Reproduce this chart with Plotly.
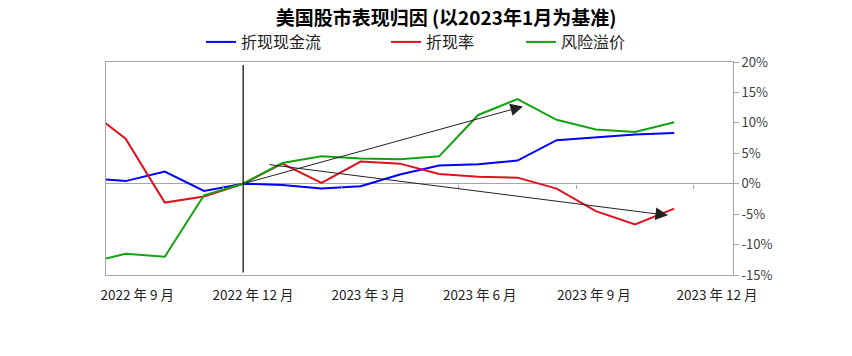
import plotly.graph_objects as go

# ---- data (monthly, Aug 2022 .. Nov 2023; base month Dec 2022 = 0) ----
months = ["2022年8月", "2022年9月", "2022年10月", "2022年11月", "2022年12月",
          "2023年1月", "2023年2月", "2023年3月", "2023年4月", "2023年5月",
          "2023年6月", "2023年7月", "2023年8月", "2023年9月", "2023年10月",
          "2023年11月", "2023年12月"]
dcf = [0.97, 0.43, 2.0, -1.2, 0.0, -0.2, -0.8, -0.4, 1.5, 3.0, 3.2, 3.8, 7.15, 7.6, 8.1, 8.35]
rate = [12.4, 7.4, -3.1, -2.1, 0.0, 3.3, 0.15, 3.65, 3.3, 1.6, 1.15, 1.0, -0.8, -4.5, -6.7, -4.1]
erp = [-13.1, -11.5, -12.0, -1.9, 0.0, 3.4, 4.5, 4.15, 4.0, 4.5, 11.3, 13.9, 10.5, 8.9, 8.5, 10.1]

series_names = ["折现现金流", "折现率", "风险溢价"]
tick_months = ["2022年9月", "2022年12月", "2023年3月", "2023年6月", "2023年9月", "2023年12月"]
tick_text_x = ["2022 年 9 月", "2022 年 12 月", "2023 年 3 月", "2023 年 6 月", "2023 年 9 月", "2023 年 12 月"]
y_ticks = [-15, -10, -5, 0, 5, 10, 15, 20]
y_tick_text = ["-15%", "-10%", "-5%", "0%", "5%", "10%", "15%", "20%"]
base_month = "2022年12月"
# trend arrows: (tail month index, tail value, head month index, head value)
arrow_up = (4.0, 0.0, 11.14, 12.7)
arrow_down = (4.63, 3.17, 14.84, -5.2)

title = "美国股市表现归因 (以2023年1月为基准)"

# layout-only: small horizontal nudges of the date labels (in months)
tick_label_shift = [0.30, 0.25, 0.19, 0.04, -0.05, 0.09]

FONT = "Noto Sans CJK SC"
x = list(range(len(dcf)))
idx = {m: i for i, m in enumerate(months)}

W, H = 852, 356

fig = go.Figure()
colors = ["#0000FF", "#E0101E", "#12A312"]
legends = ["legend", "legend2", "legend3"]
for name, vals, c, lg in zip(series_names, [dcf, rate, erp], colors, legends):
    fig.add_trace(go.Scatter(x=x, y=vals, mode="lines", name=name,
                             line=dict(color=c, width=2), legend=lg))

# dummy trace for zero-line tick axis
fig.add_trace(go.Scatter(x=[], y=[], xaxis="x2", showlegend=False, hoverinfo="skip"))

lo, hi = y_ticks[0], y_ticks[-1]
fig.add_shape(type="line", xref="x", yref="y", x0=idx[base_month], x1=idx[base_month],
              y0=-14.6, y1=19.5, line=dict(color="black", width=1.2))

for (ax_, ay_, hx, hy) in [arrow_up, arrow_down]:
    fig.add_annotation(x=hx, y=hy, ax=ax_, ay=ay_, xref="x", yref="y", axref="x", ayref="y",
                       showarrow=True, arrowhead=2, arrowsize=2.5, arrowwidth=1,
                       arrowcolor="#222222", standoff=0, text="")

gray = "#A6A6A6"
n = len(months) - 1
L, T = 106, 62
R = W - 733
B = H - 275
fig.update_layout(
    width=W, height=H,
    margin=dict(l=L, r=R, t=T, b=B, autoexpand=False),
    paper_bgcolor="white", plot_bgcolor="white",
    font=dict(family=FONT, size=13, color="#404040"),
    title=dict(text=title, x=446 / W, xanchor="center", y=1 - 18.5 / H,
               yanchor="middle", xref="container", yref="container",
               font=dict(family=FONT, size=19, color="#000000", weight="bold")),
    xaxis=dict(range=[0.5, n + 0.5], showgrid=False, zeroline=False,
               showline=True, linecolor=gray, linewidth=1, mirror=True,
               tickvals=[idx[m] + s for m, s in zip(tick_months, tick_label_shift)],
               ticktext=tick_text_x,
               ticks="outside", ticklen=8, tickcolor="rgba(0,0,0,0)",
               tickfont=dict(family=FONT, size=13.5, color="#222222")),
    xaxis2=dict(overlaying="x", matches="x", anchor="free",
                position=(0 - lo) / (hi - lo), showgrid=False, zeroline=False,
                showline=False, showticklabels=False, ticks="outside", ticklen=4,
                tickcolor=gray, tickvals=[i + 3.5 for i in range(0, 15, 3)]),
    yaxis=dict(range=[lo, hi], side="right", showgrid=False,
               zeroline=True, zerolinecolor=gray, zerolinewidth=1,
               showline=True, linecolor=gray, linewidth=1, mirror=True,
               tickvals=y_ticks, ticktext=y_tick_text, ticks="outside", ticklen=5,
               tickcolor=gray, tickfont=dict(family=FONT, size=13, color="#404040")),
    showlegend=True,
)
leg_common = dict(orientation="h", yanchor="middle", y=1 + 20 / 213, xanchor="left",
                  bgcolor="rgba(0,0,0,0)", font=dict(family=FONT, size=16, color="#222222"))
fig.update_layout(
    legend=dict(x=(201 - 106) / 627, **leg_common),
    legend2=dict(x=(386 - 106) / 627, **leg_common),
    legend3=dict(x=(521 - 106) / 627, **leg_common),
)

# remove the browser's default 8px body margin so the figure sits at the page origin
fig.write_html("out.html", config={"displayModeBar": False},
               post_script="document.body.style.margin='0';")
